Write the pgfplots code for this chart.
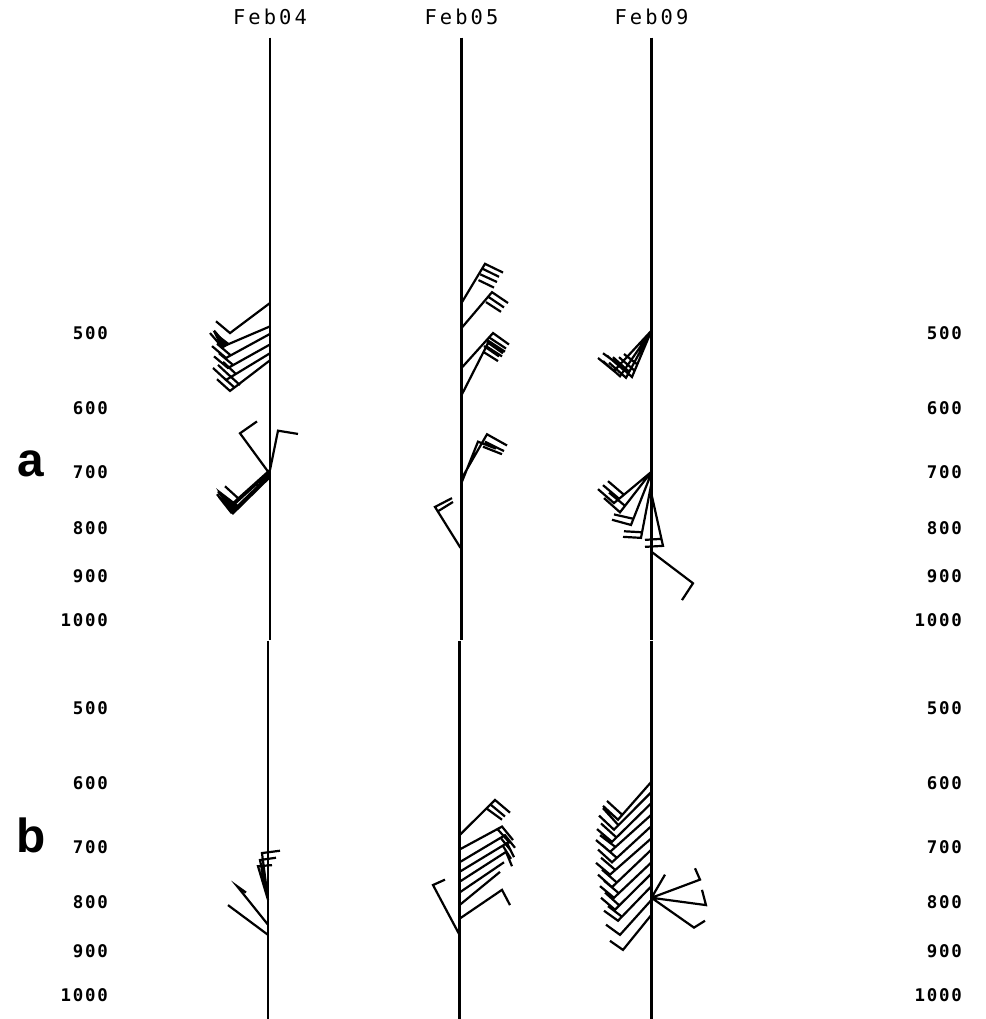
\documentclass[border=0pt]{standalone}
\usepackage{fontspec}
\usepackage{pgfplots}
\pgfplotsset{compat=1.18}
\newfontfamily\monospaced{DejaVu Sans Mono}[LetterSpace=15]
\newfontfamily\tickmono{DejaVu Sans Mono}[LetterSpace=10]
\newfontfamily\panelfont{Liberation Sans}
\begin{document}
\begin{tikzpicture}
\useasboundingbox (0,0) rectangle (986bp,1019bp);
% ---------------- panel a ----------------
\begin{axis}[scale only axis, width=850bp, xmin=112, xmax=962,
  ymode=log, y dir=reverse,
  axis line style={draw=none}, major tick length=0pt,
  clip=false, unbounded coords=jump,
  ytick={500,600,700,800,900,1000},
  yticklabels={500,600,700,800,900,1000},
  yticklabel style={font=\tickmono\bfseries\fontsize{17.5}{18}\selectfont, anchor=east, inner sep=0pt, xshift=-4bp},
  at={(112bp,378.8bp)}, anchor=south west, height=602.5bp,
  ymin=245, ymax=1050,
  xtick={270,461.5,651.5}, xticklabels={Feb04,Feb05,Feb09},
  xticklabel pos=upper,
  xticklabel style={font=\monospaced\fontsize{20.5}{21}\selectfont, anchor=south, inner sep=0pt, yshift=12.5bp}]
% station lines
\addplot[black, line width=2.2bp, no marks] coordinates {(270,245)(270,1050) (nan,nan) (461.5,245)(461.5,1050) (nan,nan) (651.5,245)(651.5,1050)};
% Feb04
\addplot[black, line width=2.2bp, no marks] coordinates {
(270,465)(230,500)(216,486) (nan,nan)
(270,492)(222,517)(210,500) (nan,nan) (226,514)(214,497) (nan,nan)
(270,501)(226,531)(212,516) (nan,nan) (231,528)(217,513) (nan,nan)
(270,514)(228,544)(214,529) (nan,nan) (233,540)(219,525) (nan,nan)
(270,525)(226,560)(213,544) (nan,nan) (231,556)(218,540) (nan,nan) (236,552)(223,536) (nan,nan)
(270,534)(230,575)(217,559) (nan,nan) (235,571)(222,555) (nan,nan) (240,567)(227,551) (nan,nan)
(269,701)(240,637)(257,619) (nan,nan)
(270,696)(278,633)(298,638) (nan,nan)
(270,696)(230,759)(218,733) (nan,nan) (270,699)(229,765)(217,738) (nan,nan)
(270,704)(231,771)(219,743) (nan,nan) (270,708)(233,773)(221,746) (nan,nan)
(238,745)(225,724)
};
\addplot[black, fill=black, line width=1bp, no marks] coordinates {(214,499)(222,519)(229,513)} -- cycle;
\addplot[black, fill=black, line width=1bp, no marks] coordinates {(218,731)(232,771)(237,757)} -- cycle;
% Feb05
\addplot[black, line width=2.2bp, no marks] coordinates {
(461.5,465)(485,423)(503,432) (nan,nan) (482.5,428)(499,436.5) (nan,nan) (480.5,434)(497,442) (nan,nan) (478.5,440)(494,448) (nan,nan)
(461.5,494)(492,453)(508,465) (nan,nan) (489,458.6)(504,470) (nan,nan) (486,464)(501,475) (nan,nan)
(461.5,544)(493,500)(509,514) (nan,nan) (490,506)(506,519) (nan,nan) (487,511)(503,525) (nan,nan) (484,516)(499,529) (nan,nan)
(461.5,581)(489,510)(505,523) (nan,nan) (486,516)(502,529) (nan,nan) (483,523)(498,535) (nan,nan)
(461.5,718)(478,650)(496,661) (nan,nan)
(461.5,711)(487,638.5)(507,656) (nan,nan) (485,650)(504,665) (nan,nan) (483,658)(502,670) (nan,nan)
(460.5,840)(435,761)(452,745) (nan,nan) (438,769)(453,752)
};
% Feb09
\addplot[black, line width=2.2bp, no marks] coordinates {
(651.5,497)(620,555)(603,535) (nan,nan) (624,547)(607,528) (nan,nan)
(651.5,497)(626,557)(609,537) (nan,nan) (630,550)(613,530) (nan,nan)
(651.5,497)(632,556)(616,537) (nan,nan) (635,548)(619,530) (nan,nan) (638,540)(624,526) (nan,nan)
(651.5,497)(614,548)(598,531) (nan,nan) (619,540)(603,525) (nan,nan)
(651.5,699)(614,754)(598,729) (nan,nan) (619,746)(603,722) (nan,nan) (624,739)(608,715) (nan,nan)
(651.5,699)(620,771)(604,745) (nan,nan) (625,759)(609,735) (nan,nan)
(651.5,701)(631,795)(612,785) (nan,nan) (633,783)(614,775) (nan,nan)
(651.5,718)(641,820)(623,818) (nan,nan) (642,809)(624,807) (nan,nan)
(651.5,738)(663,836)(645,838) (nan,nan) (661,822)(645,824) (nan,nan)
(651.5,848)(693,915)(682,953)
};
\end{axis}
\begin{axis}[scale only axis, width=850bp, xmin=112, xmax=962,
  ymode=log, y dir=reverse,
  axis line style={draw=none}, major tick length=0pt,
  ytick={500,600,700,800,900,1000},
  yticklabels={500,600,700,800,900,1000},
  yticklabel style={font=\tickmono\bfseries\fontsize{17.5}{18}\selectfont, anchor=east, inner sep=0pt},
  at={(112bp,378.8bp)}, anchor=south west, height=602.5bp,
  ymin=245, ymax=1050, xtick=\empty, yticklabel pos=right]
\addplot[draw=none] coordinates {(500,500)};
\end{axis}
% ---------------- panel b ----------------
\begin{axis}[scale only axis, width=850bp, xmin=112, xmax=962,
  ymode=log, y dir=reverse,
  axis line style={draw=none}, major tick length=0pt,
  clip=false, unbounded coords=jump,
  ytick={500,600,700,800,900,1000},
  yticklabels={500,600,700,800,900,1000},
  yticklabel style={font=\tickmono\bfseries\fontsize{17.5}{18}\selectfont, anchor=east, inner sep=0pt, xshift=-4bp},
  at={(112bp,0bp)}, anchor=south west, height=378.4bp,
  ymin=425, ymax=1060, xtick=\empty]
\addplot[black, line width=2.2bp, no marks] coordinates {(268,425)(268,1060) (nan,nan) (459.5,425)(459.5,1060) (nan,nan) (651.5,425)(651.5,1060)};
% Feb04
\addplot[black, line width=2.2bp, no marks] coordinates {
(268,795)(262,710)(280,706) (nan,nan)
(268,795)(260,722)(276,718) (nan,nan)
(268,795)(258,733)(272,731) (nan,nan)
(268,865)(228,805) (nan,nan)
(268,844)(237,769)(246,781)
};
% Feb05
\addplot[black, line width=2.2bp, no marks] coordinates {
(459.5,680)(495,624.5)(510,644) (nan,nan) (491,632)(505,650) (nan,nan) (487,638)(502,655) (nan,nan)
(459.5,704)(502,666)(513,688) (nan,nan) (498,671)(510,693) (nan,nan)
(459.5,726)(505,680)(515,701) (nan,nan) (501,685)(511,706) (nan,nan)
(459.5,743)(507,693)(514,717) (nan,nan) (503,698)(511,720) (nan,nan)
(459.5,761)(506,708)(512,733) (nan,nan)
(459.5,781)(504,726) (nan,nan)
(459.5,805)(500,743) (nan,nan)
(459.5,832)(502,776)(510,805) (nan,nan)
(459.5,865)(433,767)(445,757)
};
% Feb09
\addplot[black, line width=2.2bp, no marks] coordinates {
(651.5,597.5)(618,655)(603,633.5) (nan,nan) (622,647)(607,626) (nan,nan)
(651.5,612.5)(614,671)(599,648.5) (nan,nan) (618,663)(603,637) (nan,nan)
(651.5,629)(612,691)(597,670) (nan,nan) (616,683)(601,661) (nan,nan)
(651.5,647)(610,708)(596,688) (nan,nan) (615,699)(600,680) (nan,nan)
(651.5,665)(612,726)(598,704) (nan,nan) (616,717)(602,696) (nan,nan)
(651.5,685)(610,748)(596,727) (nan,nan) (615,739)(601,718) (nan,nan)
(651.5,704)(612,771)(598,748) (nan,nan) (616,761)(602,739) (nan,nan)
(651.5,726)(614,791)(600,769) (nan,nan) (618,781)(604,759) (nan,nan)
(651.5,746)(615,814)(601,791) (nan,nan) (619,805)(605,781) (nan,nan)
(651.5,769)(618,836)(604,816) (nan,nan) (622,828)(608,807) (nan,nan)
(651.5,795)(620,865)(606,844) (nan,nan)
(651.5,824)(623,897)(610,877.6) (nan,nan)
(651.5,791)(700,757)(695,736.5) (nan,nan)
(651.5,791)(706,805)(702,776) (nan,nan)
(651.5,791)(694,850)(705,836) (nan,nan)
(651.5,791)(665,748)
};
\end{axis}
\begin{axis}[scale only axis, width=850bp, xmin=112, xmax=962,
  ymode=log, y dir=reverse,
  axis line style={draw=none}, major tick length=0pt,
  ytick={500,600,700,800,900,1000},
  yticklabels={500,600,700,800,900,1000},
  yticklabel style={font=\tickmono\bfseries\fontsize{17.5}{18}\selectfont, anchor=east, inner sep=0pt},
  at={(112bp,0bp)}, anchor=south west, height=378.4bp,
  ymin=425, ymax=1060, xtick=\empty, yticklabel pos=right]
\addplot[draw=none] coordinates {(500,500)};
\end{axis}
\node[font=\panelfont\bfseries\fontsize{48}{48}\selectfont, anchor=base, inner sep=0pt] at (31bp,542bp) {a};
\node[font=\panelfont\bfseries\fontsize{48}{48}\selectfont, anchor=base, inner sep=0pt] at (31bp,166bp) {b};
\end{tikzpicture}
\end{document}
